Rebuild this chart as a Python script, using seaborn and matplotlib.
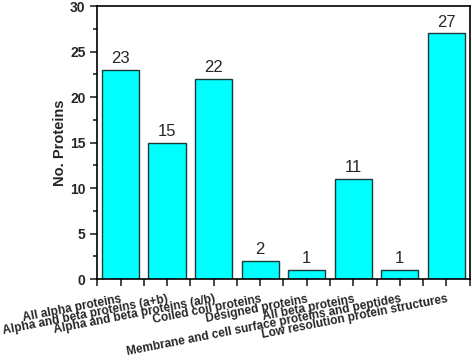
import matplotlib
matplotlib.use("Agg")
import matplotlib.pyplot as plt
import seaborn as sns
import numpy as np
import pandas as pd
from matplotlib.ticker import MultipleLocator, FixedLocator

# dados do gráfico
categorias = ["All alpha proteins", "Alpha and beta proteins (a+b)",
              "Alpha and beta proteins (a/b)", "Coiled coil proteins",
              "Designed proteins", "All beta proteins",
              "Membrane and cell surface proteins and peptides",
              "Low resolution protein structures"]
valores = [23, 15, 22, 2, 1, 11, 1, 27]

df = pd.DataFrame({"Classe": categorias, "N": valores})

sns.set_style("ticks")
plt.rcParams['font.family'] = ['Liberation Sans', 'DejaVu Sans']

fig = plt.figure(figsize=(4.72, 3.63), dpi=100)
ax = fig.add_axes([0.206, 0.231, 0.789, 0.752])

sns.barplot(data=df, x="Classe", y="N", color="#00FFFF", saturation=1,
            edgecolor="#1a3a3a", linewidth=1.0, width=0.8, ax=ax)

# rótulos dos valores
for i, v in enumerate(valores):
    ax.text(i, v + 0.4, str(v), ha="center", va="bottom", fontsize=12)

ax.set_xlim(-0.5, len(categorias) - 0.5)
ax.set_ylim(0, 30)
ax.yaxis.set_major_locator(MultipleLocator(5))
ax.yaxis.set_minor_locator(MultipleLocator(2.5))
ax.xaxis.set_minor_locator(FixedLocator(np.arange(-0.5, len(categorias), 1)))

ax.set_xticks(range(len(categorias)))
ax.set_xticklabels(categorias, rotation=11, ha="right", rotation_mode="anchor",
                   fontsize=8.6, fontweight="bold")
for lab in ax.get_yticklabels():
    lab.set_fontweight("bold")
    lab.set_fontsize(10)

ax.tick_params(axis="both", which="major", direction="out", length=5, width=1.2)
ax.tick_params(axis="both", which="minor", direction="out", length=3, width=1.2)
ax.tick_params(axis="x", which="both", length=5, pad=5)

for s in ax.spines.values():
    s.set_visible(True)
    s.set_linewidth(1.2)
    s.set_color("black")

ax.set_xlabel("")
ax.set_ylabel("No. Proteins", fontsize=10.5, fontweight="bold", labelpad=2)

fig.savefig("out.png", dpi=100)
